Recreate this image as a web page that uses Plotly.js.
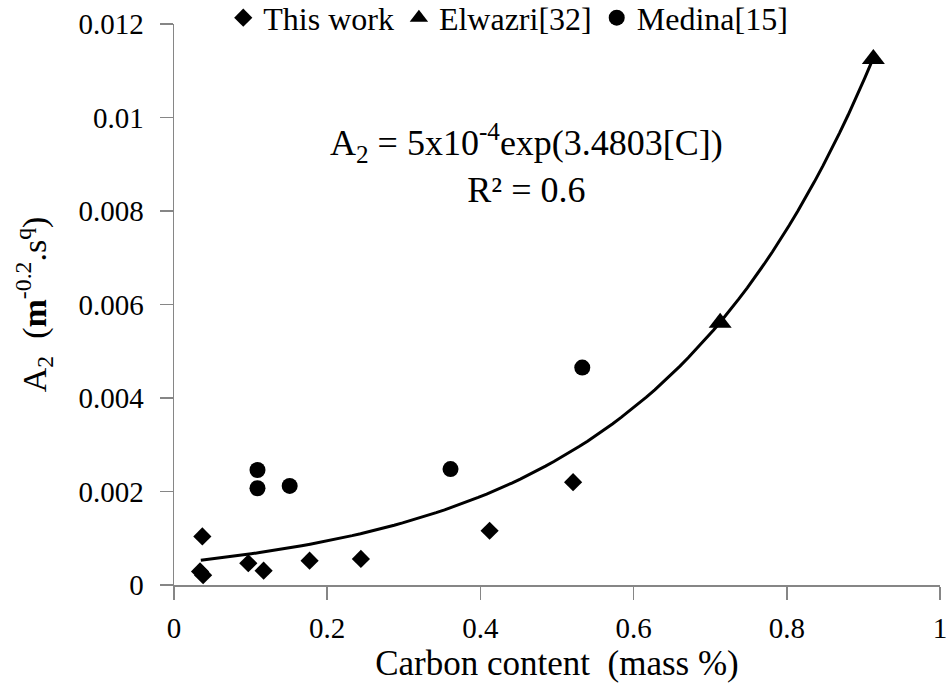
<!DOCTYPE html>
<html>
<head>
<meta charset="utf-8">
<script src="https://cdn.plot.ly/plotly-3.0.1.min.js"></script>
<style>html,body{margin:0;padding:0;background:#fff;}#chart{width:950px;height:690px;}</style>
</head>
<body>
<div id="chart"></div>
<script>
// Data
const thisWorkC  = [0.034, 0.038, 0.037, 0.097, 0.117, 0.177, 0.244, 0.412, 0.521];
const thisWorkA2 = [0.00029, 0.00021, 0.00104, 0.000465, 0.000307, 0.00052, 0.000557, 0.00116, 0.0022];
const elwazriC   = [0.713, 0.913];
const elwazriA2  = [0.00561, 0.01125];
const medinaC    = [0.109, 0.109, 0.151, 0.361, 0.533];
const medinaA2   = [0.00246, 0.00207, 0.00212, 0.00248, 0.00465];
// Exponential trendline shown on the chart: A2 = a*exp(b*[C])
const fitA = 0.00047, fitB = 3.4803;
const fitRange = [0.035, 0.913];
const xTicks = [0, 0.2, 0.4, 0.6, 0.8, 1];
const yTicks = [0, 0.002, 0.004, 0.006, 0.008, 0.01, 0.012];

const fitX = [], fitY = [];
const nFit = 80;
for (let i = 0; i <= nFit; i++) {
  const c = fitRange[0] + (fitRange[1] - fitRange[0]) * i / nFit;
  fitX.push(c); fitY.push(fitA * Math.exp(fitB * c));
}

const FONT = 'Liberation Serif';
const AX = '#868686';

const traces = [
  {x: fitX, y: fitY, mode: 'lines', line: {color: '#000', width: 3}, showlegend: false, hoverinfo: 'skip'},
  {x: thisWorkC, y: thisWorkA2, mode: 'markers', name: 'This work',
   marker: {symbol: 'diamond', size: 14, color: '#000'}},
  {x: elwazriC, y: elwazriA2, mode: 'markers', name: 'Elwazri[32]',
   marker: {symbol: 'triangle-up', size: 20, color: '#000'}},
  {x: medinaC, y: medinaA2, mode: 'markers', name: 'Medina[15]',
   marker: {symbol: 'circle', size: 16, color: '#000'}}
];

const axisCommon = {
  showline: true, linecolor: AX, linewidth: 1.5,
  ticks: 'outside', ticklen: 13, tickcolor: AX, tickwidth: 1.5,
  showgrid: false, zeroline: false,
  tickfont: {family: FONT, size: 29, color: '#000'}
};

const layout = {
  width: 950, height: 690,
  margin: {l: 174, r: 10, t: 24, b: 105, autoexpand: false},
  paper_bgcolor: '#fff', plot_bgcolor: '#fff',
  font: {family: FONT, color: '#000'},
  xaxis: Object.assign({}, axisCommon, {
    range: [0, 1], tickvals: xTicks, ticktext: xTicks.map(String),
    ticklabelstandoff: 4,
    title: {text: 'Carbon content \u00a0(mass %)', font: {family: FONT, size: 35, color: '#000'}, standoff: 2}
  }),
  yaxis: Object.assign({}, axisCommon, {
    range: [0, 0.012], tickvals: yTicks, ticktext: yTicks.map(String),
    ticklabelstandoff: 10
  }),
  legend: {
    orientation: 'h', x: 0.235, xref: 'container', xanchor: 'left',
    y: 1.06, yref: 'paper', yanchor: 'top',
    font: {family: FONT, size: 32, color: '#000'}, bgcolor: 'rgba(0,0,0,0)'
  },
  annotations: [
    {
      x: 0.46, y: 0.0090, xref: 'x', yref: 'y', showarrow: false,
      text: 'A<sub>2</sub> = 5x10<sup>-4</sup>exp(3.4803[C])<br>R² = 0.6',
      font: {family: FONT, size: 36, color: '#000'}, align: 'center'
    },
    {
      // y-axis title
      x: -0.183, y: 0.5, xref: 'paper', yref: 'paper', showarrow: false,
      textangle: -90, xanchor: 'center', yanchor: 'middle',
      text: 'A<sub>2</sub> \u00a0(<b>m</b><sup>-0.2</sup>.s<sup>q</sup>)',
      font: {family: FONT, size: 34, color: '#000'}
    }
  ],
  showlegend: true
};

Plotly.newPlot('chart', traces, layout, {displayModeBar: false, staticPlot: true});
</script>
</body>
</html>
